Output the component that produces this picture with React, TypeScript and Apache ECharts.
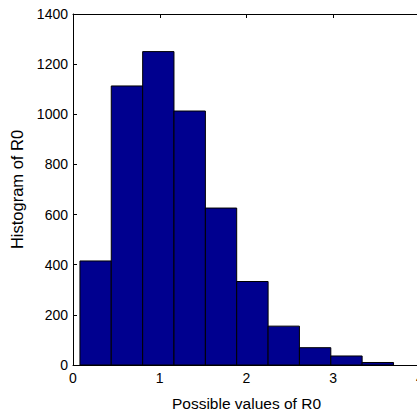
import React, { useEffect, useRef } from "react";
import * as echarts from "echarts";

const binEdges = [0.08, 0.441, 0.803, 1.164, 1.526, 1.887, 2.249, 2.61, 2.972, 3.333, 3.695];
const counts = [415, 1113, 1250, 1013, 626, 333, 155, 69, 36, 10];
const xRange = [0, 4];
const yRange = [0, 1400];
const xStep = 1;
const yStep = 200;
const xName = "Possible values of R0";
const yName = "Histogram of R0";

export default function App() {
  const ref = useRef<HTMLDivElement>(null);
  useEffect(() => {
    if (!ref.current) return;
    const chart = echarts.init(ref.current, undefined, { renderer: "svg" });
    const font = "Liberation Sans, Arial, sans-serif";
    const axisLine = { show: true, onZero: false, lineStyle: { color: "#000", width: 1 } };
    const tick = { show: true, inside: true, length: 4, lineStyle: { color: "#000" } };
    const label = { color: "#000", fontSize: 14, fontFamily: font, formatter: (v: number) => String(v) };
    chart.setOption({
      animation: false,
      backgroundColor: "#fff",
      grid: { left: 73, top: 14, bottom: 46, right: 4, containLabel: false, outerBoundsMode: "none" },
      xAxis: [
        {
          type: "value",
          min: xRange[0],
          max: xRange[1],
          interval: xStep,
          position: "bottom",
          axisLine,
          axisTick: tick,
          axisLabel: { ...label, margin: 6 },
          splitLine: { show: false },
          name: xName,
          nameLocation: "middle",
          nameGap: 30,
          nameTextStyle: { color: "#000", fontSize: 15.5, fontFamily: font },
        },
        {
          type: "value",
          min: xRange[0],
          max: xRange[1],
          interval: xStep,
          position: "top",
          axisLine,
          axisTick: tick,
          axisLabel: { show: false },
          splitLine: { show: false },
        },
      ],
      yAxis: [
        {
          type: "value",
          min: yRange[0],
          max: yRange[1],
          interval: yStep,
          position: "left",
          axisLine,
          axisTick: tick,
          axisLabel: { ...label, margin: 5 },
          splitLine: { show: false },
          name: yName,
          nameLocation: "middle",
          nameGap: 45,
          nameTextStyle: { color: "#000", fontSize: 16.5, fontFamily: font },
        },
        {
          type: "value",
          min: yRange[0],
          max: yRange[1],
          interval: yStep,
          position: "right",
          axisLine,
          axisTick: { show: false },
          axisLabel: { show: false },
          splitLine: { show: false },
        },
      ],
      series: [
        {
          type: "custom",
          xAxisIndex: 0,
          yAxisIndex: 0,
          encode: { x: [0, 1], y: 2 },
          data: counts.map((c, i) => [binEdges[i], binEdges[i + 1], c]),
          renderItem: (params: any, api: any) => {
            const p0 = api.coord([api.value(0), api.value(2)]);
            const p1 = api.coord([api.value(1), 0]);
            return {
              type: "rect",
              shape: { x: p0[0], y: p0[1], width: p1[0] - p0[0], height: p1[1] - p0[1] },
              style: { fill: "#00008F", stroke: "#000", lineWidth: 1 },
            };
          },
        },
      ],
    });
    return () => chart.dispose();
  }, []);
  return (
    <div style={{ position: "fixed", left: 0, top: 0, width: 417, height: 411, overflow: "hidden" }}>
      <div ref={ref} style={{ width: 424, height: 411 }} />
    </div>
  );
}
